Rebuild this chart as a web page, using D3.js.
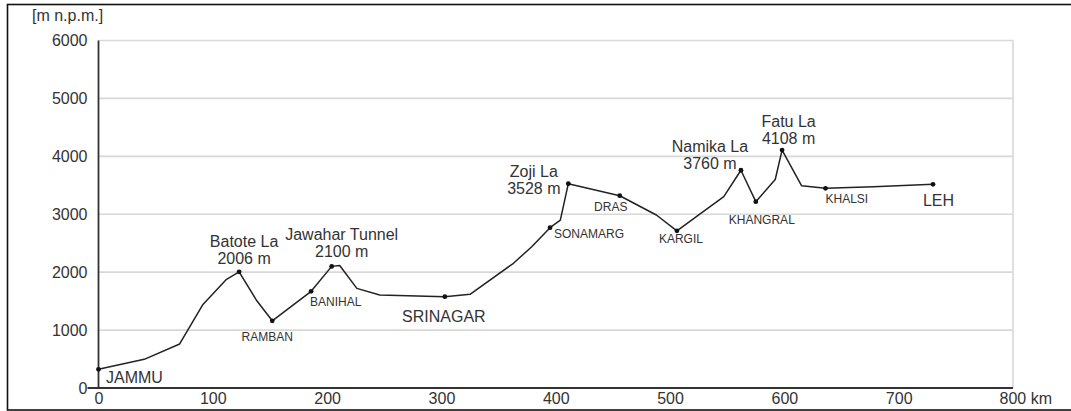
<!DOCTYPE html>
<html>
<head>
<meta charset="utf-8">
<script src="https://cdn.jsdelivr.net/npm/d3@7"></script>
<style>
  html, body { margin: 0; padding: 0; background: #fff; }
  svg { display: block; }
  text { font-family: "Liberation Sans", Arial, sans-serif; fill: #333; }
</style>
</head>
<body>
<svg id="chart" width="1071" height="411"></svg>
<script>
// ---- data ----
const distKm = [0, 40, 71, 91, 112, 123, 138, 152, 186, 204, 211, 226, 246, 303, 325, 363, 379, 395, 404, 411, 456, 488, 506, 529, 547, 562, 575, 592, 598, 615, 636, 678, 730];
const elevM  = [322, 495, 760, 1433, 1876, 2006, 1520, 1160, 1670, 2100, 2115, 1720, 1605, 1577, 1617, 2153, 2440, 2768, 2900, 3528, 3320, 2987, 2714, 3044, 3303, 3760, 3217, 3600, 4108, 3493, 3448, 3476, 3517];

const townNames = ["JAMMU", "RAMBAN", "BANIHAL", "SRINAGAR", "SONAMARG", "DRAS", "KARGIL", "KHANGRAL", "KHALSI", "LEH"];
const townIdx   = [0, 7, 8, 13, 17, 20, 22, 26, 30, 32];

const passNames = ["Batote La", "Jawahar Tunnel", "Zoji La", "Namika La", "Fatu La"];
const passElev  = [2006, 2100, 3528, 3760, 4108];
const passIdx   = [5, 9, 19, 25, 28];

const xTicks = [0, 100, 200, 300, 400, 500, 600, 700, 800];
const yTicks = [0, 1000, 2000, 3000, 4000, 5000, 6000];
const yUnit = "[m n.p.m.]";
const xUnit = "km";

// ---- layout (label offsets relative to the point) ----
const townLayout = {
  "JAMMU":    {dx: 7.5, dy: 14,  anchor: "start",  size: 16},
  "RAMBAN":   {dx: -5,  dy: 20,  anchor: "middle", size: 12},
  "BANIHAL":  {dx: -1,  dy: 15,  anchor: "start",  size: 12},
  "SRINAGAR": {dx: -1,  dy: 25,  anchor: "middle", size: 16},
  "SONAMARG": {dx: 4,   dy: 10,  anchor: "start",  size: 12},
  "DRAS":     {dx: -9,  dy: 15,  anchor: "middle", size: 12},
  "KARGIL":   {dx: 4,   dy: 12.5,anchor: "middle", size: 12},
  "KHANGRAL": {dx: 6,   dy: 22,  anchor: "middle", size: 12},
  "KHALSI":   {dx: 0,   dy: 14.5,anchor: "start",  size: 12},
  "LEH":      {dx: -10, dy: 22,  anchor: "start",  size: 16}
};
const passLayout = [
  {dx: 5,     dy1: -25,  dy2: -8},
  {dx: 10,    dy1: -26,  dy2: -9},
  {dx: -34.5, dy1: -7,   dy2: 10.6},
  {dx: -31,   dy1: -18.5,dy2: -1},
  {dx: 6.5,   dy1: -23.4,dy2: -6}
];

const svg = d3.select("#chart");
const x = d3.scaleLinear().domain([0, 800]).range([98.5, 1013]);
const y = d3.scaleLinear().domain([0, 6000]).range([388, 40.5]);

// outer frame
svg.append("rect").attr("x", 7.5).attr("y", 4.5).attr("width", 1080).attr("height", 405.5)
  .attr("fill", "none").attr("stroke", "#111").attr("stroke-width", 1.6);

// grid
svg.append("g").selectAll("line").data(yTicks.filter(d => d > 0)).join("line")
  .attr("x1", x(0)).attr("x2", x(800)).attr("y1", d => y(d)).attr("y2", d => y(d))
  .attr("stroke", "#d8d8d8").attr("stroke-width", 1.6);
svg.append("line").attr("x1", x(800)).attr("x2", x(800)).attr("y1", y(6000)).attr("y2", y(0))
  .attr("stroke", "#d8d8d8").attr("stroke-width", 1.6);

// y axis
const yAxis = svg.append("g").attr("transform", `translate(${x(0)},0)`)
  .call(d3.axisLeft(y).tickValues(yTicks).tickSize(0).tickPadding(11).tickFormat(d3.format("d")));
yAxis.select(".domain").remove();
yAxis.selectAll("text").attr("font-size", 16).style("font-family", "Liberation Sans, Arial, sans-serif").attr("fill", "#333");

// x axis
const xAxis = svg.append("g").attr("transform", `translate(0,${y(0)})`)
  .call(d3.axisBottom(x).tickValues(xTicks).tickSize(0).tickPadding(5).tickFormat(d3.format("d")));
xAxis.select(".domain").remove();
xAxis.selectAll("text").attr("font-size", 16).style("font-family", "Liberation Sans, Arial, sans-serif").attr("fill", "#333");
xAxis.selectAll(".tick").filter(d => d === 800).select("text")
  .attr("text-anchor", "start").attr("x", -14).text(d => d + " " + xUnit);

// axis lines
svg.append("line").attr("x1", x(0)).attr("x2", x(0)).attr("y1", y(6000)).attr("y2", y(0))
  .attr("stroke", "#333").attr("stroke-width", 1.8);
svg.append("line").attr("x1", x(0) - 11).attr("x2", x(800)).attr("y1", y(0)).attr("y2", y(0))
  .attr("stroke", "#333").attr("stroke-width", 1.8);

// unit label
svg.append("text").attr("x", 32).attr("y", 21).attr("font-size", 16).text(yUnit);

// profile line
const pts = distKm.map((d, i) => [d, elevM[i]]);
svg.append("path").datum(pts)
  .attr("d", d3.line().x(d => x(d[0])).y(d => y(d[1])))
  .attr("fill", "none").attr("stroke", "#222").attr("stroke-width", 1.5).attr("stroke-linejoin", "round");

// markers
const markIdx = townIdx.concat(passIdx);
svg.append("g").selectAll("circle").data(markIdx).join("circle")
  .attr("cx", i => x(distKm[i])).attr("cy", i => y(elevM[i])).attr("r", 2.4).attr("fill", "#111");

// town labels
townNames.forEach((name, k) => {
  const i = townIdx[k];
  const L = townLayout[name];
  svg.append("text")
    .attr("x", x(distKm[i]) + L.dx).attr("y", y(elevM[i]) + L.dy)
    .attr("text-anchor", L.anchor).attr("font-size", L.size).text(name);
});

// pass labels
passNames.forEach((name, k) => {
  const i = passIdx[k];
  const L = passLayout[k];
  const px = x(distKm[i]) + L.dx, py = y(elevM[i]);
  svg.append("text").attr("x", px).attr("y", py + L.dy1).attr("text-anchor", "middle").attr("font-size", 16).text(name);
  svg.append("text").attr("x", px).attr("y", py + L.dy2).attr("text-anchor", "middle").attr("font-size", 16).text(passElev[k] + " m");
});
</script>
</body>
</html>
